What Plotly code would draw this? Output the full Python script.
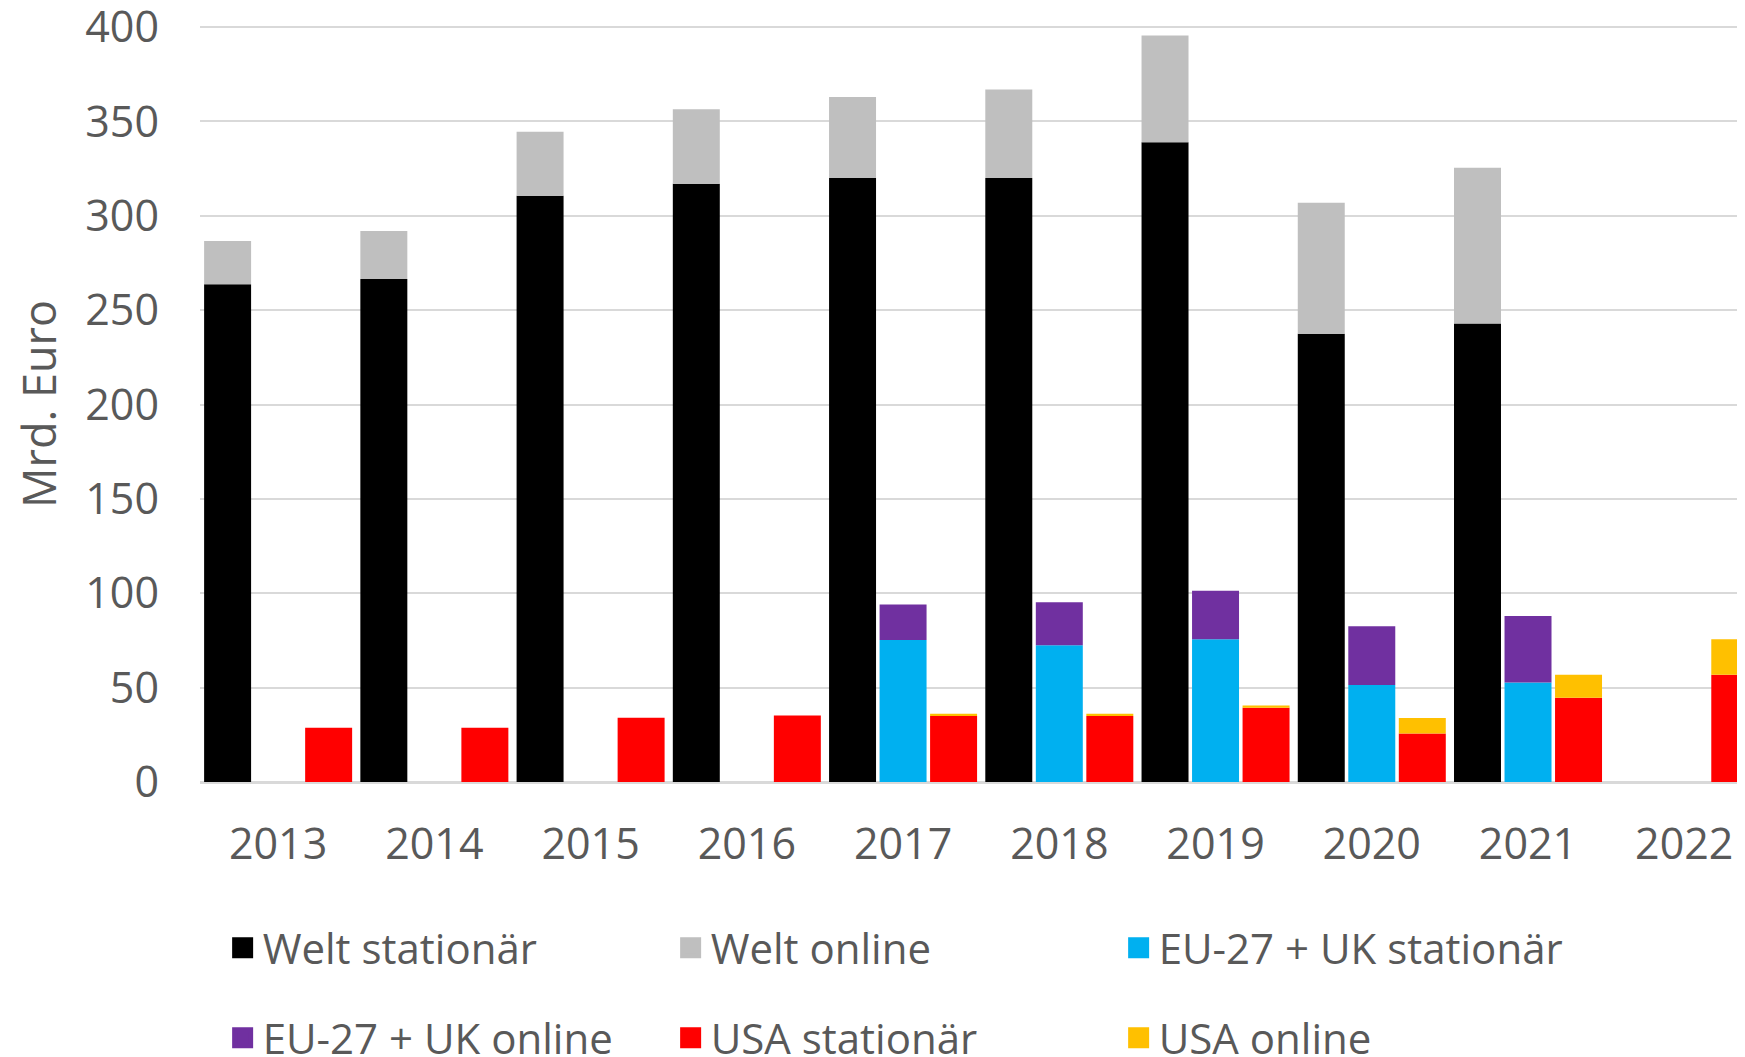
import plotly.graph_objects as go

years = ["2013", "2014", "2015", "2016", "2017", "2018", "2019", "2020", "2021", "2022"]

welt_stationaer = [263.7, 266.5, 310.6, 317, 320, 320, 339, 237.5, 243, None]
welt_online = [23, 25.5, 34, 39.5, 43, 47, 56.5, 69.5, 82.5, None]
eu_stationaer = [None, None, None, None, 75.2, 72.4, 75.7, 51.4, 52.7, None]
eu_online = [None, None, None, None, 18.9, 22.9, 25.7, 31.1, 35.3, None]
usa_stationaer = [28.7, 28.7, 34, 35.2, 35, 35, 39.3, 25.7, 44.6, 56.8]
usa_online = [0, 0, 0, 0, 1.2, 1.2, 1.2, 8.2, 12.2, 18.9]

series_names = ["Welt stationär", "Welt online", "EU-27 + UK stationär",
                "EU-27 + UK online", "USA stationär", "USA online"]
colors = ["#000000", "#BFBFBF", "#00B0F0", "#7030A0", "#FF0000", "#FFC000"]

TXT = "#595959"
FONT = "Open Sans"

fig = go.Figure()

groups = [
    ("welt", welt_stationaer, welt_online, 0),
    ("eu", eu_stationaer, eu_online, 2),
    ("usa", usa_stationaer, usa_online, 4),
]
for grp, stat, onl, ci in groups:
    fig.add_trace(go.Bar(x=years, y=stat, name=series_names[ci], offsetgroup=grp,
                         marker=dict(color=colors[ci], line=dict(width=0)),
                         showlegend=False))
    fig.add_trace(go.Bar(x=years, y=onl, base=[s if s is not None else 0 for s in stat],
                         name=series_names[ci + 1], offsetgroup=grp,
                         marker=dict(color=colors[ci + 1], line=dict(width=0)),
                         showlegend=False))

# legend entries (square swatches)
for i, (nm, c) in enumerate(zip(series_names, colors)):
    fig.add_trace(go.Scatter(x=[None], y=[None], mode="markers", name=nm,
                             marker=dict(symbol="square", size=16, color=c,
                                         line=dict(width=5, color=c)),
                             showlegend=True,
                             legend="legend" if i < 3 else "legend2"))

legend_common = dict(
    orientation="h", xref="container", yref="container",
    xanchor="left", yanchor="middle",
    font=dict(family=FONT, size=42, color=TXT),
    entrywidth=403, entrywidthmode="pixels",
    bgcolor="rgba(0,0,0,0)", borderwidth=0, itemclick=False,
)

fig.update_layout(
    width=1745, height=1057,
    margin=dict(l=192, r=0, t=18, b=283, autoexpand=False),
    plot_bgcolor="white", paper_bgcolor="white",
    barmode="group", bargap=0.03, bargroupgap=0.07,
    font=dict(family=FONT, color=TXT),
    legend=dict(x=0.123, y=(1057 - 940) / 1057, **legend_common),
    legend2=dict(x=0.123, y=(1057 - 1030) / 1057, **legend_common),
    xaxis=dict(type="category", range=[-0.5, 9.44], showgrid=False,
               showline=False, ticks="", zeroline=False,
               tickfont=dict(family=FONT, size=43, color=TXT),
               ticklabelstandoff=33),
    yaxis=dict(range=[0, 400.6], tickvals=[0, 50, 100, 150, 200, 250, 300, 350, 400],
               showgrid=True, gridcolor="#D9D9D9",
               gridwidth=2, zeroline=True, zerolinecolor="#D9D9D9", zerolinewidth=3,
               showline=False, ticks="", ticklabeloverflow="allow",
               tickfont=dict(family=FONT, size=43, color=TXT),
               ticklabelstandoff=40,
               title=dict(text="Mrd. Euro", font=dict(family=FONT, size=45, color=TXT),
                          standoff=18)),
)

fig.write_html("out.html")
